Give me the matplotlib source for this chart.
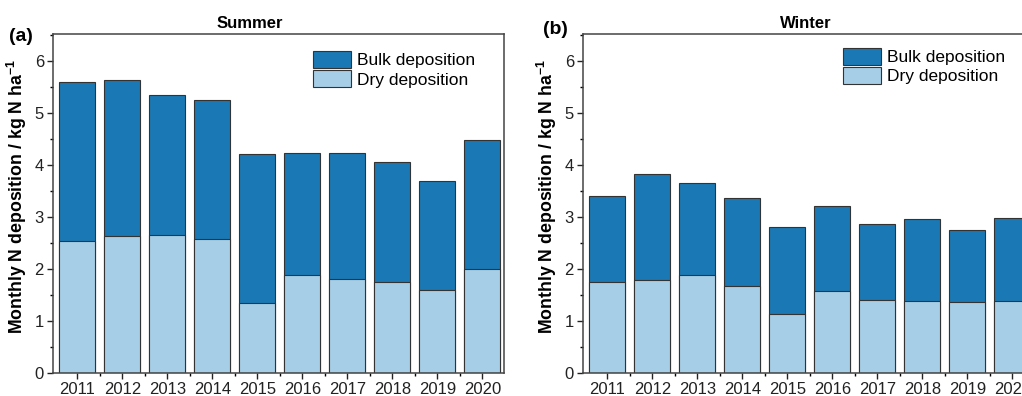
import matplotlib.pyplot as plt
import numpy as np
from matplotlib.ticker import MultipleLocator, FixedLocator

plt.rcParams["font.family"] = ["Liberation Sans", "DejaVu Sans"]
plt.rcParams["mathtext.fontset"] = "custom"
plt.rcParams["mathtext.rm"] = "Liberation Sans"
plt.rcParams["mathtext.bf"] = "Liberation Sans:bold"

years = [2011, 2012, 2013, 2014, 2015, 2016, 2017, 2018, 2019, 2020]

# Summer: total bulk deposition and the dry part of it
summer_bulk = [5.60, 5.63, 5.35, 5.24, 4.20, 4.23, 4.22, 4.05, 3.68, 4.48]
summer_dry = [2.54, 2.62, 2.64, 2.57, 1.34, 1.87, 1.80, 1.75, 1.60, 2.00]

# Winter
winter_bulk = [3.40, 3.82, 3.65, 3.36, 2.80, 3.20, 2.86, 2.95, 2.75, 2.97]
winter_dry = [1.75, 1.79, 1.88, 1.66, 1.13, 1.58, 1.40, 1.38, 1.355, 1.38]

bulk_color = "#1a78b4"
dry_color = "#a6cee6"
edge_color = "#333333"


def draw_panel(ax, bulk, dry, title, title_x, tag, tag_x, tag_y, leg_y):
    x = np.array(years)
    ax.bar(x, bulk, width=0.8, color=bulk_color, edgecolor=edge_color,
           linewidth=0.8, label="Bulk deposition")
    ax.bar(x, dry, width=0.8, color=dry_color, edgecolor=edge_color,
           linewidth=0.8, label="Dry deposition")
    ax.set_xlim(2010.46, 2020.48)
    ax.set_ylim(0, 6.52)
    ax.set_xticks(years)
    ax.xaxis.set_minor_locator(FixedLocator(x[:-1] + 0.5))
    ax.yaxis.set_major_locator(MultipleLocator(1))
    ax.yaxis.set_minor_locator(MultipleLocator(0.5))
    ax.tick_params(which="major", direction="out", length=4.5, width=1,
                   labelsize=12, colors="#222222", pad=2)
    ax.tick_params(which="minor", direction="out", length=2.5, width=1)
    for s in ax.spines.values():
        s.set_linewidth(1.1)
        s.set_color("#444444")
    ax.set_ylabel("Monthly N deposition / kg N ha$^{\\mathbf{-1}}$",
                  fontsize=12.8, fontweight="bold")
    ax.yaxis.set_label_coords(-0.053, 0.52)
    ax.text(title_x, 1.018, title, transform=ax.transAxes, fontsize=12,
            fontweight="bold", ha="center", va="baseline")
    ax.text(tag_x, tag_y, tag, transform=ax.transAxes, fontsize=14,
            fontweight="bold", ha="left", va="center")
    ax.legend(loc="upper right", bbox_to_anchor=(0.962, leg_y), frameon=False,
              fontsize=12.5, handlelength=2.2, handleheight=1.15,
              handletextpad=0.3, labelspacing=0.1, borderaxespad=0.3)


fig = plt.figure(figsize=(10.22, 3.96), dpi=100)
ax1 = fig.add_axes([53 / 1022, 23.3 / 396, 451 / 1022, 339 / 396])
ax2 = fig.add_axes([583 / 1022, 23.3 / 396, 451 / 1022, 339 / 396])

draw_panel(ax1, summer_bulk, summer_dry, "Summer", 0.437, "(a)", -0.097, 0.993, 0.985)
draw_panel(ax2, winter_bulk, winter_dry, "Winter", 0.494, "(b)", -0.089, 1.013, 0.995)

fig.savefig("out.png", dpi=100)
